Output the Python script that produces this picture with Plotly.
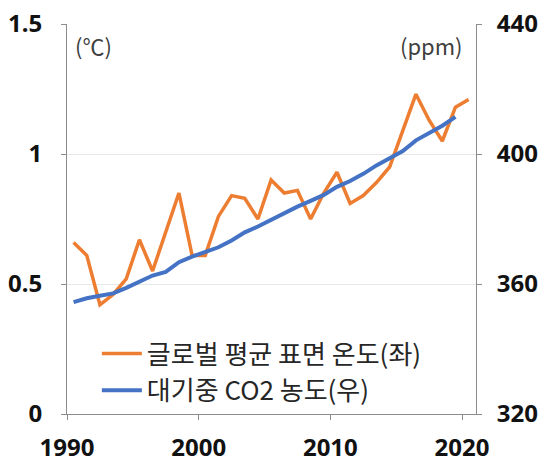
import plotly.graph_objects as go

years_temp = list(range(1990, 2021))
temp_anomaly = [0.66, 0.61, 0.42, 0.46, 0.52, 0.67, 0.55, 0.70, 0.85, 0.61,
                0.61, 0.76, 0.84, 0.83, 0.75, 0.90, 0.85, 0.86, 0.75, 0.85,
                0.93, 0.81, 0.84, 0.89, 0.95, 1.09, 1.23, 1.13, 1.05, 1.18, 1.21]

years_co2 = list(range(1990, 2020))
co2_ppm = [354.4, 355.6, 356.4, 357.1, 358.8, 360.8, 362.6, 363.7, 366.7, 368.4,
           369.7, 371.3, 373.4, 375.9, 377.7, 379.8, 381.9, 383.8, 385.6, 387.4,
           389.9, 391.7, 393.9, 396.5, 398.7, 400.9, 404.2, 406.5, 408.7, 411.4]

x_tick_labels = ["1990", "2000", "2010", "2020"]
y1_ticks = [0, 0.5, 1, 1.5]
y1_tick_labels = ["0", "0.5", "1", "1.5"]
y2_ticks = [320, 360, 400, 440]

name_temp = "글로벌 평균 표면 온도(좌)"
name_co2 = "대기중 CO2 농도(우)"

ORANGE = "#ED7D31"
BLUE = "#4472C4"
AXIS = "#8C8C8C"
KFONT = "Noto Sans CJK KR"

fig = go.Figure()
fig.add_trace(go.Scatter(x=years_temp, y=temp_anomaly, name=name_temp, mode="lines",
                         line=dict(color=ORANGE, width=3.5), yaxis="y"))
fig.add_trace(go.Scatter(x=years_co2, y=co2_ppm, name=name_co2, mode="lines",
                         line=dict(color=BLUE, width=4), yaxis="y2"))

tick_font = dict(family="Noto Sans", size=24, color="#111111", weight="bold")

fig.update_layout(
    width=542, height=462,
    margin=dict(l=67, r=66, t=24, b=48, autoexpand=False),
    paper_bgcolor="white", plot_bgcolor="white",
    showlegend=True,
    legend=dict(x=0.073, y=0.0, xanchor="left", yanchor="bottom",
                font=dict(family=KFONT, size=26, color="#262626"),
                bgcolor="rgba(255,255,255,0)", tracegroupgap=0, itemwidth=40),
    xaxis=dict(range=[1989.5, 2020.56], automargin=False,
               tickvals=[int(t) - 0.5 for t in x_tick_labels], ticktext=x_tick_labels,
               showline=True, linecolor=AXIS, linewidth=1,
               ticks="outside", ticklen=5, tickcolor=AXIS,
               showgrid=False, zeroline=False, tickfont=tick_font,
               ticklabelstandoff=7, ticklabeloverflow="allow"),
    yaxis=dict(range=[0, 1.5], tickvals=y1_ticks, ticktext=y1_tick_labels,
               automargin=False,
               showline=True, linecolor=AXIS, linewidth=1,
               ticks="outside", ticklen=5, tickcolor=AXIS,
               showgrid=True, gridcolor="#E8E8E8", zeroline=False,
               tickfont=tick_font, ticklabelstandoff=14, ticklabeloverflow="allow"),
    yaxis2=dict(range=[320, 440], tickvals=y2_ticks, overlaying="y", side="right",
                automargin=False,
                showline=True, linecolor=AXIS, linewidth=1,
                ticks="outside", ticklen=5, tickcolor=AXIS,
                showgrid=False, zeroline=False,
                tickfont=tick_font, ticklabelstandoff=10, ticklabeloverflow="allow"),
    annotations=[
        dict(text="(℃)", xref="paper", yref="paper", x=0.015, y=0.945,
             xanchor="left", yanchor="middle", showarrow=False,
             font=dict(family=KFONT, size=22, color="#404040")),
        dict(text="(ppm)", xref="paper", yref="paper", x=0.972, y=0.945,
             xanchor="right", yanchor="middle", showarrow=False,
             font=dict(family=KFONT, size=22, color="#404040")),
    ],
)

fig.write_html("out.html", config={"displayModeBar": False},
               post_script="document.body.style.margin='0';")
